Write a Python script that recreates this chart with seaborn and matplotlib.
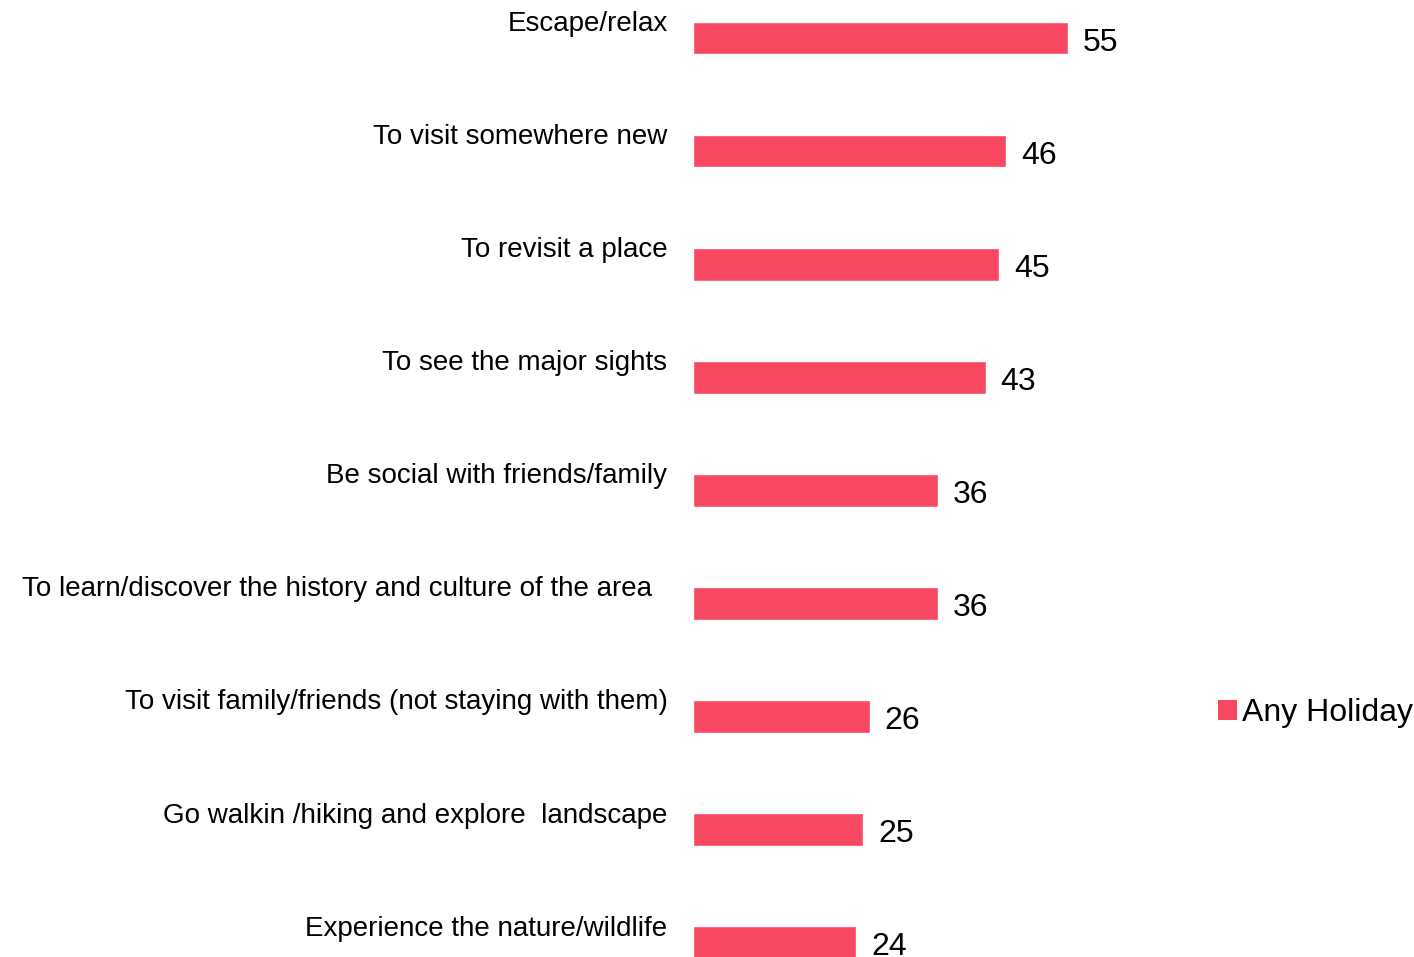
import matplotlib
matplotlib.use("Agg")
import matplotlib.pyplot as plt
import seaborn as sns
import pandas as pd
from matplotlib.patches import Patch

categories = [
    "Escape/relax",
    "To visit somewhere new",
    "To revisit a place",
    "To see the major sights",
    "Be social with friends/family",
    "To learn/discover the history and culture of the area  ",
    "To visit family/friends (not staying with them)",
    "Go walkin /hiking and explore  landscape",
    "Experience the nature/wildlife",
]
values = [55, 46, 45, 43, 36, 36, 26, 25, 24]
series_name = "Any Holiday"
bar_color = "#F84862"

sns.set_theme(style="white")
plt.rcParams["font.family"] = ["Liberation Sans", "DejaVu Sans"]
plt.rcParams["text.color"] = "#000000"

df = pd.DataFrame({"category": categories, "value": values})

fig = plt.figure(figsize=(14.14, 9.57), dpi=100)
px_per_unit = 375 / 55.0
left_px = 692.5
xmax = 80
ax = fig.add_axes([left_px / 1414, 0, xmax * px_per_unit / 1414, 1])

sns.barplot(data=df, y="category", x="value", orient="h", color=bar_color,
            width=0.29, saturation=1, ax=ax)

ax.set_xlim(0, xmax)
ax.set_ylim(8.126, -0.336)
ax.set_axis_off()

for i, (c, v) in enumerate(zip(categories, values)):
    ax.text(-25 / px_per_unit, i - 0.125, c, ha="right", va="center",
            fontsize=20, color="#000000")
    ax.text(v + 15 / px_per_unit, i + 0.04, str(v), ha="left", va="center",
            fontsize=23, color="#000000")

handle = Patch(facecolor=bar_color, edgecolor="none", label=series_name)
leg = fig.legend(handles=[handle], loc="center left",
                 bbox_to_anchor=(1218 / 1414, 1 - 713 / 957), frameon=False,
                 fontsize=23, handlelength=0.6, handleheight=0.6, handletextpad=0.15,
                 borderpad=0, borderaxespad=0)
for t in leg.get_texts():
    t.set_color("#000000")

fig.savefig("out.png", dpi=100)
